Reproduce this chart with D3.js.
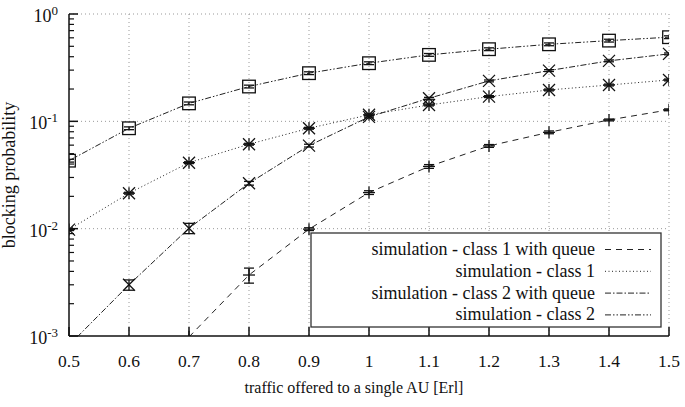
<!DOCTYPE html>
<html>
<head>
<meta charset="utf-8">
<script src="https://cdn.jsdelivr.net/npm/d3@7"></script>
<style>
  html, body { margin: 0; padding: 0; background: #fff; }
  svg { display: block; }
</style>
</head>
<body>
<svg id="chart" width="685" height="407" font-family="'Liberation Serif', 'Times New Roman', Times, serif"></svg>
<script>
// ---- data ----
const xValues = [0.5, 0.6, 0.7, 0.8, 0.9, 1.0, 1.1, 1.2, 1.3, 1.4, 1.5];
const class1Queue = [null, null, 0.00098, 0.0037, 0.0099, 0.0217, 0.038, 0.059, 0.079, 0.103, 0.128];
const class1 = [0.0098, 0.0214, 0.0412, 0.0612, 0.0862, 0.115, 0.142, 0.170, 0.196, 0.218, 0.243];
const class2Queue = [0.00082, 0.0030, 0.0101, 0.0265, 0.0594, 0.110, 0.164, 0.238, 0.297, 0.366, 0.425];
const class2 = [0.043, 0.0862, 0.147, 0.211, 0.281, 0.348, 0.416, 0.470, 0.522, 0.565, 0.608];
// relative error half-widths (percent)
const class1QueueErr = [0, 0, 0, 16, 3, 4, 4, 3, 3, 2, 2];
const class1Err = [2, 2, 2, 2, 2, 2, 2, 2, 2, 2, 2];
const class2QueueErr = [0, 11, 11, 4, 3, 2, 2, 2, 2, 2, 2];
const class2Err = [3, 3, 3, 3, 3, 3, 3, 3, 3, 3, 3];
const xTickLabels = ["0.5", "0.6", "0.7", "0.8", "0.9", "1", "1.1", "1.2", "1.3", "1.4", "1.5"];
const yTickExponents = ["-3", "-2", "-1", "0"];
const legendLabels = ["simulation - class 1 with queue", "simulation - class 1", "simulation - class 2 with queue", "simulation - class 2"];

// ---- layout ----
const FONT = "'Liberation Serif', 'Times New Roman', Times, serif";
const svg = d3.select("#chart");
const pL = 69, pR = 669, pT = 14, pB = 336;
const x = d3.scaleLinear().domain([0.5, 1.5]).range([pL, pR]);
const y = d3.scaleLog().domain([1e-3, 1]).range([pB, pT]);

const series = [
  { name: legendLabels[0], values: class1Queue, err: class1QueueErr, marker: "plus", dash: "6,5" },
  { name: legendLabels[1], values: class1, err: class1Err, marker: "star", dash: "1,2.5" },
  { name: legendLabels[2], values: class2Queue, err: class2QueueErr, marker: "cross", dash: "6,2,1.5,2" },
  { name: legendLabels[3], values: class2, err: class2Err, marker: "square", dash: "6,2,1.5,2,1.5,2" }
];

svg.append("defs").append("clipPath").attr("id", "plotClip")
  .append("rect").attr("x", pL).attr("y", pT).attr("width", pR - pL).attr("height", pB - pT);

// ---- grid ----
const grid = svg.append("g").attr("stroke", "#999").attr("stroke-width", 1).attr("stroke-dasharray", "1,3");
xValues.slice(1).forEach(v => {
  grid.append("line").attr("x1", x(v)).attr("x2", x(v)).attr("y1", pT).attr("y2", pB);
});
[1e-2, 1e-1, 1].forEach(v => {
  grid.append("line").attr("x1", pL).attr("x2", pR).attr("y1", y(v)).attr("y2", y(v));
});

// ---- data lines ----
const plot = svg.append("g").attr("clip-path", "url(#plotClip)");
series.forEach(s => {
  const pts = xValues.map((xv, i) => [xv, s.values[i]]).filter(d => d[1] != null);
  const line = d3.line().x(d => x(d[0])).y(d => y(d[1]));
  plot.append("path").attr("d", line(pts)).attr("fill", "none")
    .attr("stroke", "#222").attr("stroke-width", 1).attr("stroke-dasharray", s.dash);
});

// ---- markers & error bars ----
const mk = plot.append("g").attr("stroke", "#111").attr("stroke-width", 1.3).attr("fill", "none");
function marker(g, type, cx, cy) {
  const h = 6;
  if (type === "plus" || type === "star") {
    g.append("line").attr("x1", cx - h).attr("x2", cx + h).attr("y1", cy).attr("y2", cy);
    g.append("line").attr("x1", cx).attr("x2", cx).attr("y1", cy - h).attr("y2", cy + h);
  }
  if (type === "cross" || type === "star") {
    g.append("line").attr("x1", cx - h).attr("x2", cx + h).attr("y1", cy - h).attr("y2", cy + h);
    g.append("line").attr("x1", cx - h).attr("x2", cx + h).attr("y1", cy + h).attr("y2", cy - h);
  }
  if (type === "square") {
    g.append("rect").attr("x", cx - 6.3).attr("y", cy - 6.3).attr("width", 12.6).attr("height", 12.6);
  }
}
series.forEach(s => {
  xValues.forEach((xv, i) => {
    const v = s.values[i];
    if (v == null) return;
    const cx = x(xv), cy = y(v);
    const e = s.err[i] / 100;
    if (e > 0) {
      const y1 = y(v * (1 + e)), y2 = y(v * (1 - e));
      mk.append("line").attr("x1", cx).attr("x2", cx).attr("y1", y1).attr("y2", y2);
      mk.append("line").attr("x1", cx - 5).attr("x2", cx + 5).attr("y1", y1).attr("y2", y1);
      mk.append("line").attr("x1", cx - 5).attr("x2", cx + 5).attr("y1", y2).attr("y2", y2);
    }
    marker(mk, s.marker, cx, cy);
  });
});

// ---- axes ----
const ax = svg.append("g").attr("stroke", "#111").attr("stroke-width", 1.5);
ax.append("line").attr("x1", pL).attr("x2", pL).attr("y1", pT).attr("y2", pB);
ax.append("line").attr("x1", pL).attr("x2", pR).attr("y1", pB).attr("y2", pB);
xValues.forEach(v => {
  ax.append("line").attr("x1", x(v)).attr("x2", x(v)).attr("y1", pB).attr("y2", pB - 9);
});
const minorTicks = [];
[1e-3, 1e-2, 1e-1].forEach(d => { for (let k = 2; k <= 9; k++) minorTicks.push(d * k); });
minorTicks.forEach(v => {
  ax.append("line").attr("x1", pL).attr("x2", pL + 5).attr("y1", y(v)).attr("y2", y(v)).attr("stroke-width", 1.2);
});
[1e-3, 1e-2, 1e-1, 1].forEach(v => {
  ax.append("line").attr("x1", pL).attr("x2", pL + 9).attr("y1", y(v)).attr("y2", y(v));
});

// tick labels
xValues.forEach((v, i) => {
  svg.append("text").attr("x", x(v)).attr("y", 367).attr("text-anchor", "middle")
    .attr("font-family", FONT).attr("fill", "#111").attr("font-size", 17.5).text(xTickLabels[i]);
});
yTickExponents.forEach(ex => {
  const v = Math.pow(10, +ex);
  const t = svg.append("text").attr("x", 58).attr("y", y(v) + 8).attr("text-anchor", "end")
    .attr("font-family", FONT).attr("fill", "#111").attr("font-size", 18);
  t.append("tspan").text("10");
  t.append("tspan").attr("dy", -7).attr("font-size", 13).text(ex);
});

// axis titles
svg.append("text").attr("x", 354).attr("y", 393).attr("text-anchor", "middle")
  .attr("font-family", FONT).attr("fill", "#111").attr("font-size", 16)
  .text("traffic offered to a single AU [Erl]");
svg.append("text").attr("transform", "translate(15,175) rotate(-90)").attr("text-anchor", "middle")
  .attr("font-family", FONT).attr("fill", "#111").attr("font-size", 18)
  .text("blocking probability");

// ---- legend ----
const lg = svg.append("g");
lg.append("rect").attr("x", 311).attr("y", 233).attr("width", 350).attr("height", 94)
  .attr("fill", "#fff").attr("stroke", "#333").attr("stroke-width", 1.3);
series.forEach((s, i) => {
  const ly = 249.5 + i * 21.8;
  lg.append("text").attr("x", 595).attr("y", ly + 5.5).attr("text-anchor", "end")
    .attr("font-family", FONT).attr("fill", "#111").attr("font-size", 18).text(s.name);
  lg.append("line").attr("x1", 605).attr("x2", 651).attr("y1", ly).attr("y2", ly)
    .attr("stroke", "#222").attr("stroke-width", 1).attr("stroke-dasharray", s.dash);
});
</script>
</body>
</html>
